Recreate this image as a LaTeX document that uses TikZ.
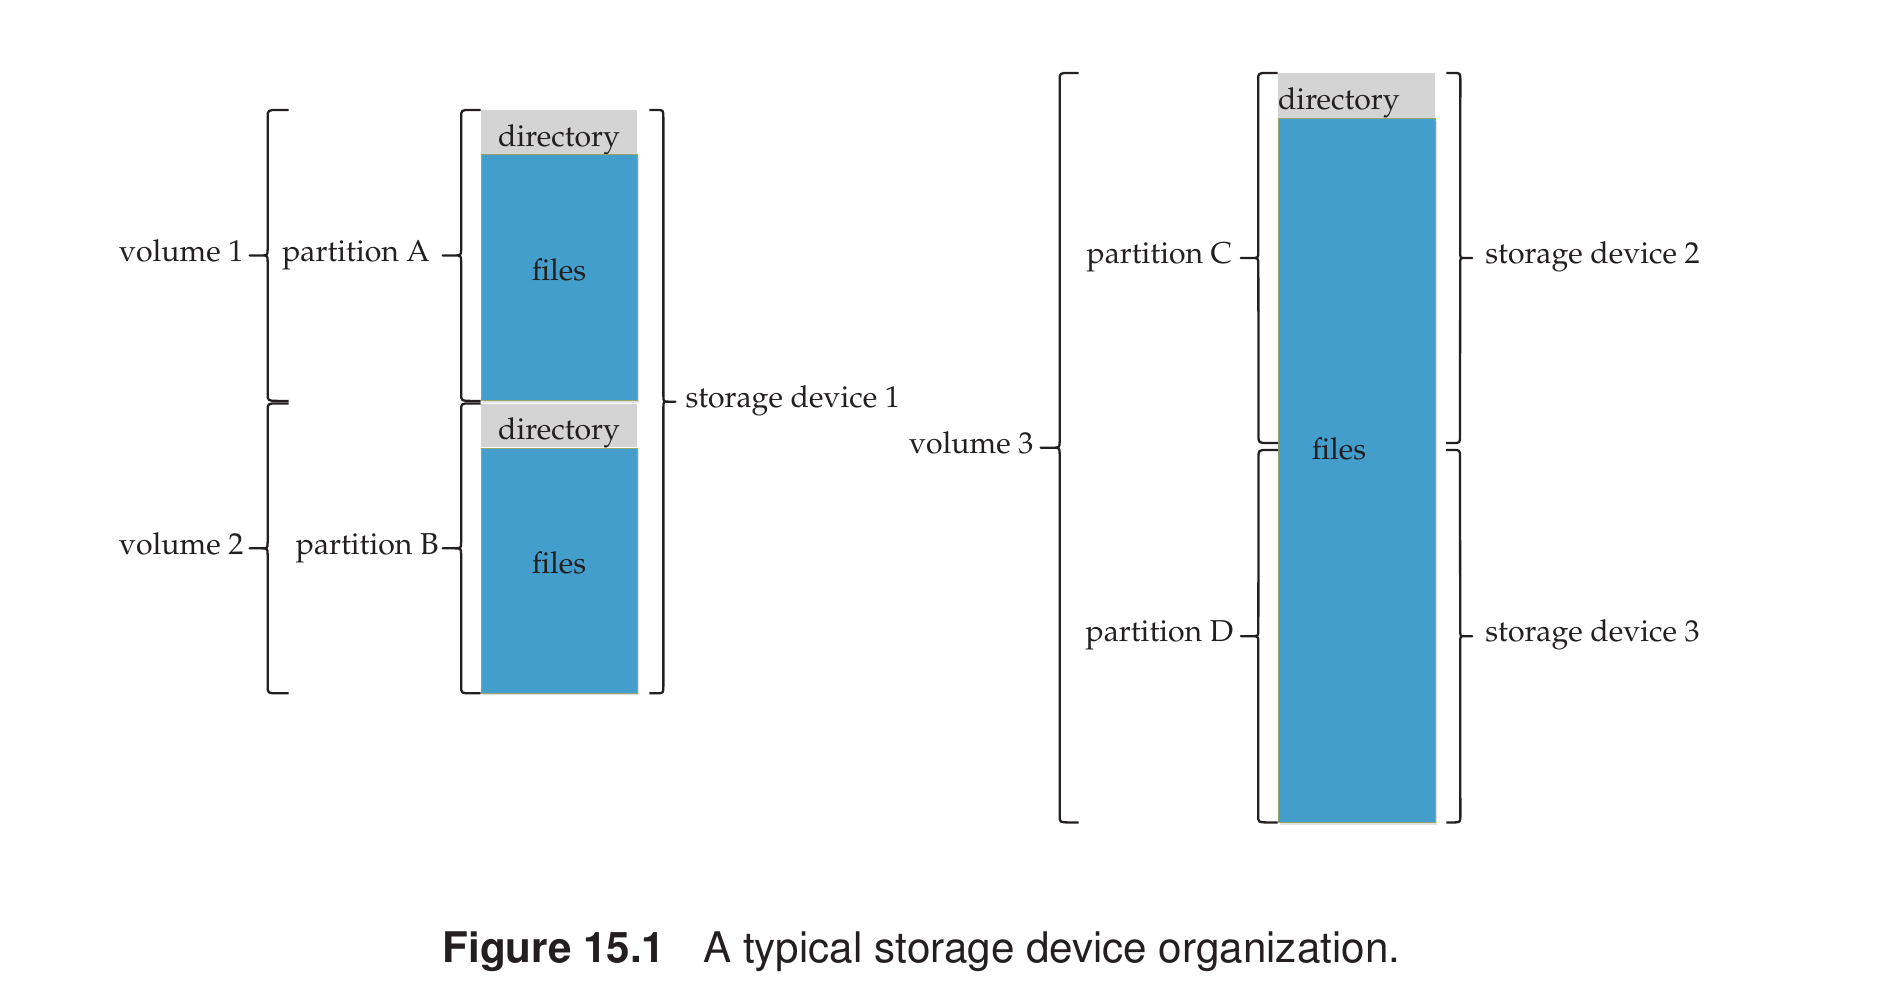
\documentclass[tikz,border=0pt]{standalone}
\usepackage[T1]{fontenc}
\usepackage{mathpazo}
\usepackage{helvet}
\usepackage{xcolor}
\definecolor{filesblue}{RGB}{67, 158, 204}
\definecolor{dirgray}{RGB}{212, 212, 212}
\definecolor{boxedge}{RGB}{150, 165, 105}
\definecolor{inkblack}{RGB}{35, 31, 32}
\usetikzlibrary{positioning, calc, shadows}

\begin{document}
\begin{tikzpicture}[
    font=\fontsize{17.2}{20}\selectfont,
    text=inkblack,
    dirbox/.style={fill=dirgray, minimum width=3.12cm, minimum height=0.87cm, inner sep=0pt,
        text height=16.2pt, text depth=0pt},
    filebox/.style={fill=filesblue, draw=boxedge, line width=0.4pt, minimum width=3.12cm, inner sep=0pt,
        text depth=0.3cm, drop shadow={shadow xshift=0.04cm, shadow yshift=-0.05cm, opacity=0.25}},
    brh/.store in=\brh, brt/.store in=\brt, bre/.store in=\bre,
    brh=0.3cm, brt=0.3cm, bre=0.13cm,
    % llave: gancho, linea, punta y gancho (de abajo hacia arriba)
    brk/.style={draw=inkblack, line width=1.3pt, line join=round, to path={
        -- ($(\tikztostart) + ({0.5*(\brh)}, 0)$)
        .. controls ($(\tikztostart) + (\brh, 0)$) .. ($(\tikztostart) + (\brh, 0.15cm)$)
        -- ($(\tikztostart)!0.5!(\tikztotarget) + (\brh, -\bre)$)
        .. controls ($(\tikztostart)!0.5!(\tikztotarget) + (\brh, 0)$)
            .. ($(\tikztostart)!0.5!(\tikztotarget) + ({\brh+0.4*(\brt)}, 0)$)
        -- ($(\tikztostart)!0.5!(\tikztotarget) + ({\brh+\brt}, 0)$) \tikztonodes
        -- ($(\tikztostart)!0.5!(\tikztotarget) + ({\brh+0.4*(\brt)}, 0)$)
        .. controls ($(\tikztostart)!0.5!(\tikztotarget) + (\brh, 0)$)
            .. ($(\tikztostart)!0.5!(\tikztotarget) + (\brh, \bre)$)
        -- ($(\tikztotarget) + (\brh, -0.15cm)$)
        .. controls ($(\tikztotarget) + (\brh, 0)$) .. ($(\tikztotarget) + ({0.5*(\brh)}, 0)$)
        -- (\tikztotarget)}},
    lbrk/.style={brk, brh=-0.39cm, brt=-0.37cm},
    rbrk/.style={brk, brh=0.28cm, brt=0.24cm},
    lbl/.style={inner sep=0pt, text height=1.4ex, text depth=0pt}
]
\useasboundingbox (0, 0) rectangle (37.62, 19.98);

% === Dispositivo 1: particiones A y B ===
\node[dirbox, anchor=north] (dirA) at (11.18, 17.78) {directory};
\node[filebox, minimum height=4.92cm, below=0pt of dirA] (filesA) {files};
\node[dirbox, below=0.05cm of filesA] (dirB) {directory};
\node[filebox, minimum height=4.9cm, below=0pt of dirB] (filesB) {files};

% Volumenes 1 y 2
\draw[lbrk, brh=-0.42cm, brt=-0.36cm] ([xshift=-3.84cm]filesA.south west)
    to node[lbl, pos=1, left=0.1cm] (vol1) {volume 1} ([xshift=-3.84cm]dirA.north west);
\draw[lbrk, brh=-0.42cm, brt=-0.36cm] ([xshift=-3.84cm]filesB.south west)
    to node[lbl, pos=1, left=0.1cm] (vol2) {volume 2} ([xshift=-3.84cm]dirB.north west);

% Particiones
\draw[lbrk] (filesA.south west) to node[lbl, pos=1, left=0.23cm] (partA) {partition A} (dirA.north west);
\draw[lbrk] (filesB.south west) to node[lbl, pos=1, left=0.06cm] (partB) {partition B} (dirB.north west);

% Dispositivo
\draw[rbrk] ([xshift=0.24cm]filesB.south east)
    to node[lbl, pos=1, right=0.18cm] (dev1) {storage device 1} ([xshift=0.24cm]dirA.north east);

% === Volumen 3: particiones C y D ===
\node[dirbox, minimum width=3.14cm, minimum height=0.89cm, text width=3.14cm, align=left, anchor=north] (dirCD) at (27.13, 18.52) {directory};
\node[filebox, minimum width=3.14cm, minimum height=14.07cm, below=0pt of dirCD] (filesCD) {};
\node (filesCDtxt) at (26.78, 11.0) {files};

\coordinate (splitL) at (25.56, 11.05);
\coordinate (splitR) at (28.70, 11.05);

% Volumen 3
\draw[lbrk, brh=-0.38cm, brt=-0.38cm] ([xshift=-3.98cm]filesCD.south west)
    to node[lbl, pos=1, left=0.12cm] (vol3) {volume 3} ([xshift=-3.98cm]dirCD.north west);

% Particiones
\draw[lbrk, brt=-0.35cm] ([yshift=0.07cm]splitL) to node[lbl, pos=1, left=0.15cm] (partC) {partition C} (dirCD.north west);
\draw[lbrk, brt=-0.35cm] (filesCD.south west) to node[lbl, pos=1, left=0.13cm] (partD) {partition D} ([yshift=-0.07cm]splitL);

% Dispositivos 2 y 3
\draw[rbrk] ([xshift=0.22cm, yshift=0.07cm]splitR)
    to node[lbl, pos=1, right=0.24cm] (dev2) {storage device 2} ([xshift=0.22cm]dirCD.north east);
\draw[rbrk] ([xshift=0.22cm]filesCD.south east)
    to node[lbl, pos=1, right=0.24cm] (dev3) {storage device 3} ([xshift=0.22cm, yshift=-0.07cm]splitR);

% === Pie de figura ===
\node[anchor=base west, font=\sffamily\fontsize{24}{28}\selectfont] (caption) at (8.73, 0.72)
    {\textbf{Figure 15.1}\hspace{0.9em}A typical storage device organization.};

\end{tikzpicture}
\end{document}
